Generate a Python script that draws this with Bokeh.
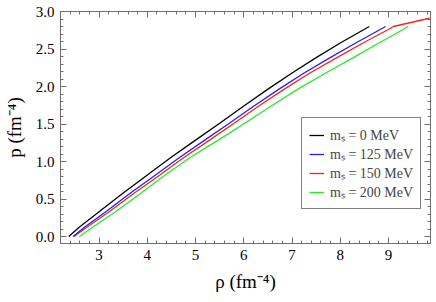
from bokeh.plotting import figure
from bokeh.models import (Range1d, SingleIntervalTicker, LinearAxis, Legend, LegendItem,
                          PrintfTickFormatter)
from bokeh.embed import file_html
from bokeh.resources import INLINE

# Data (rho in fm^-4, p in fm^-4)
rho_0 = [2.37, 2.6, 2.86, 3.0, 3.48, 4.0, 4.48, 5.0, 5.5, 6.0, 6.5, 7.0, 7.5, 8.0, 8.3, 8.6]
p_0 = [0.0, 0.13, 0.26, 0.33, 0.57, 0.82, 1.05, 1.285, 1.51, 1.74, 1.965, 2.18, 2.385, 2.58, 2.69, 2.80]

rho_125 = [2.46, 2.71, 3.14, 3.63, 4.17, 4.66, 5.19, 5.70, 6.21, 6.73, 7.25, 7.79, 8.32, 8.63, 8.94]
p_125 = [0.0, 0.13, 0.33, 0.57, 0.82, 1.05, 1.285, 1.51, 1.74, 1.965, 2.18, 2.385, 2.58, 2.69, 2.80]

rho_150 = [2.48, 2.76, 3.21, 3.71, 4.26, 4.75, 5.29, 5.80, 6.31, 6.84, 7.37, 7.93, 8.47, 8.79, 9.0, 9.1, 9.85]
p_150 = [0.0, 0.13, 0.33, 0.57, 0.82, 1.05, 1.285, 1.51, 1.74, 1.965, 2.18, 2.385, 2.58, 2.69, 2.76, 2.80, 2.91]

rho_200 = [2.59, 2.88, 3.34, 3.85, 4.37, 4.88, 5.47, 6.02, 6.57, 7.12, 7.70, 8.27, 8.80, 9.11, 9.41]
p_200 = [0.0, 0.13, 0.33, 0.57, 0.82, 1.05, 1.285, 1.51, 1.74, 1.965, 2.18, 2.385, 2.58, 2.69, 2.80]

labels = ["mₛ = 0 MeV", "mₛ = 125 MeV", "mₛ = 150 MeV", "mₛ = 200 MeV"]
colors = ["black", "#2020ff", "#ff2020", "#20ee20"]

FONT = "Liberation Serif"
AX = "#707070"

p = figure(width=434, height=300, output_backend="svg", toolbar_location=None,
           x_range=Range1d(2.2, 9.87), y_range=Range1d(-0.093, 3.0),
           min_border_left=60, min_border_right=4, min_border_top=11, min_border_bottom=57,
           x_axis_type=None, y_axis_type=None)
p.grid.visible = False
p.outline_line_color = AX
p.background_fill_color = "white"
p.border_fill_color = "white"

def make_axis(interval, labels_on, label_text=None, fmt=None):
    ax = LinearAxis(ticker=SingleIntervalTicker(interval=interval, num_minor_ticks=5))
    if fmt:
        ax.formatter = PrintfTickFormatter(format=fmt)
    ax.axis_line_color = AX
    ax.major_tick_line_color = AX
    ax.minor_tick_line_color = AX
    ax.major_tick_in = 6
    ax.major_tick_out = 0
    ax.minor_tick_in = 3
    ax.minor_tick_out = 0
    ax.major_label_text_font = FONT
    ax.major_label_text_font_size = "15px"
    ax.major_label_text_color = "black"
    ax.major_label_standoff = 6
    if not labels_on:
        ax.major_label_text_alpha = 0
        ax.major_label_text_font_size = "1px"
    if label_text:
        ax.axis_label = label_text
        ax.axis_label_text_font = FONT
        ax.axis_label_text_font_size = "19px"
        ax.axis_label_text_font_style = "normal"
        ax.axis_label_text_color = "black"
        ax.axis_label_standoff = 8
    return ax

p.add_layout(make_axis(1, True, "ρ (fm⁻⁴)"), "below")
p.add_layout(make_axis(0.5, True, "p (fm⁻⁴)", "%.1f"), "left")
p.add_layout(make_axis(1, False), "above")
p.add_layout(make_axis(0.5, False), "right")

r150 = p.line(rho_150, p_150, line_color=colors[2], line_width=1.3)
r125 = p.line(rho_125, p_125, line_color=colors[1], line_width=1.3)
r200 = p.line(rho_200, p_200, line_color=colors[3], line_width=1.3)
r0 = p.line(rho_0, p_0, line_color=colors[0], line_width=1.3)

legend = Legend(items=[LegendItem(label=labels[0], renderers=[r0]),
                       LegendItem(label=labels[1], renderers=[r125]),
                       LegendItem(label=labels[2], renderers=[r150]),
                       LegendItem(label=labels[3], renderers=[r200])],
                location=(241, 34))
legend.margin = 0
legend.padding = 7
legend.spacing = -4
legend.label_height = 16
legend.glyph_height = 16
legend.glyph_width = 15
legend.label_standoff = 6
legend.label_text_font = FONT
legend.label_text_font_size = "14px"
legend.border_line_color = "black"
legend.border_line_width = 1.5
legend.background_fill_alpha = 1
legend.background_fill_color = "white"
p.add_layout(legend, "center")

open("out.html", "w").write(file_html(p, INLINE))
